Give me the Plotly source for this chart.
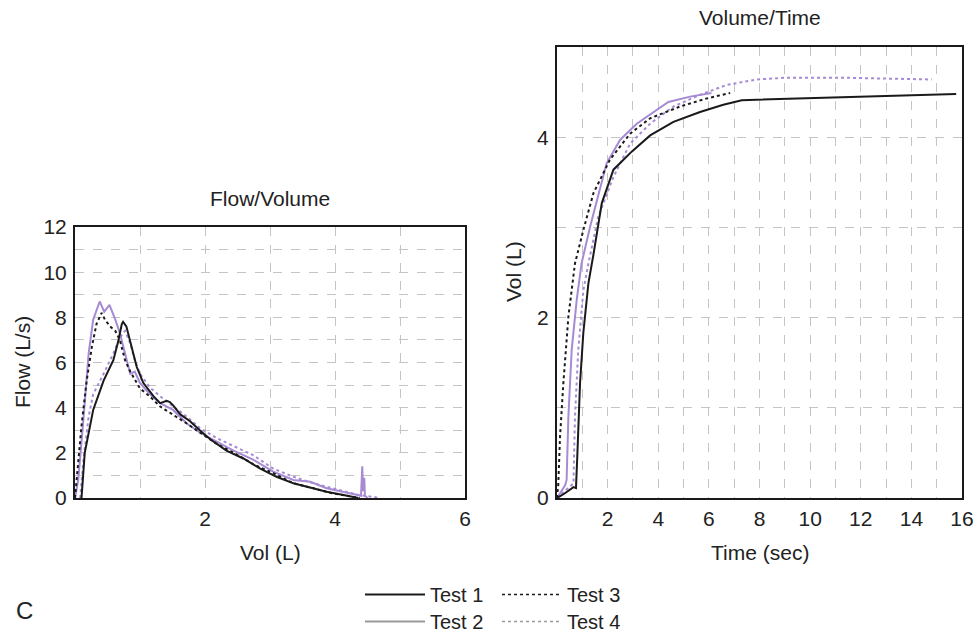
import plotly.graph_objects as go

# ---------------- data ----------------
# Flow/Volume (x: Vol L, y: Flow L/s)
fv1_vol = [0.10, 0.12, 0.15, 0.28, 0.44, 0.59, 0.67, 0.72, 0.74, 0.79, 0.87, 0.95, 1.05, 1.21, 1.31, 1.41, 1.46, 1.51, 1.62, 1.77, 1.92, 2.08, 2.33, 2.59, 2.85, 3.10, 3.36, 3.62, 3.87, 4.13, 4.36]
fv1_flow = [0.0, 1.0, 2.0, 3.9, 5.2, 6.1, 7.0, 7.7, 7.8, 7.6, 6.7, 5.8, 5.1, 4.5, 4.2, 4.3, 4.25, 4.1, 3.7, 3.4, 3.0, 2.6, 2.1, 1.75, 1.3, 0.94, 0.65, 0.46, 0.28, 0.13, 0.0]

fv2_vol = [0.0, 0.05, 0.13, 0.21, 0.28, 0.38, 0.45, 0.53, 0.62, 0.69, 0.77, 0.85, 0.92, 1.0, 1.15, 1.31, 1.51, 1.72, 1.92, 2.18, 2.44, 2.74, 3.05, 3.36, 3.62, 3.87, 4.13, 4.28, 4.40, 4.42, 4.43, 4.45, 4.46, 4.48, 4.50]
fv2_flow = [0.0, 0.8, 3.5, 6.4, 7.9, 8.7, 8.25, 8.55, 7.9, 7.3, 6.4, 5.5, 5.6, 5.1, 4.6, 4.2, 3.9, 3.3, 2.9, 2.5, 2.1, 1.7, 1.17, 0.8, 0.72, 0.43, 0.28, 0.2, 0.1, 1.4, 0.3, 0.9, 0.1, 0.05, 0.0]

fv3_vol = [0.0, 0.05, 0.10, 0.18, 0.26, 0.33, 0.41, 0.46, 0.54, 0.62, 0.69, 0.77, 0.85, 1.0, 1.15, 1.31, 1.51, 1.72, 1.92, 2.18, 2.44, 2.74, 3.05, 3.36, 3.67, 3.97, 4.28, 4.38]
fv3_flow = [0.0, 1.7, 3.2, 5.2, 6.7, 7.7, 8.2, 7.9, 7.6, 7.4, 7.0, 6.1, 5.6, 4.85, 4.5, 4.05, 3.7, 3.3, 2.9, 2.4, 2.0, 1.5, 1.1, 0.65, 0.43, 0.2, 0.05, 0.0]

fv4_vol = [0.08, 0.13, 0.21, 0.28, 0.44, 0.59, 0.69, 0.77, 0.85, 0.92, 1.0, 1.15, 1.31, 1.51, 1.72, 1.92, 2.18, 2.44, 2.74, 3.05, 3.36, 3.67, 3.97, 4.18, 4.38, 4.59, 4.67]
fv4_flow = [0.0, 1.7, 3.6, 4.6, 5.5, 6.4, 7.1, 7.4, 6.85, 6.1, 5.5, 4.9, 4.5, 4.05, 3.6, 3.1, 2.65, 2.3, 1.9, 1.3, 0.94, 0.65, 0.43, 0.28, 0.12, 0.05, 0.0]

# Volume/Time (x: Time sec, y: Vol L)
vt1_time = [0.0, 0.3, 0.65, 0.75, 0.8, 0.91, 1.04, 1.11, 1.24, 1.44, 1.77, 2.23, 2.95, 3.68, 4.6, 5.65, 6.57, 7.3, 14.2, 15.77]
vt1_vol = [0.0, 0.05, 0.12, 0.11, 0.45, 1.27, 1.83, 2.0, 2.38, 2.7, 3.27, 3.64, 3.84, 4.02, 4.17, 4.28, 4.36, 4.41, 4.47, 4.48]

vt2_time = [0.0, 0.32, 0.38, 0.45, 0.58, 0.78, 0.97, 1.3, 1.96, 2.49, 3.15, 4.4, 5.26, 6.1]
vt2_vol = [0.0, 0.14, 0.2, 0.9, 1.64, 2.2, 2.6, 3.0, 3.71, 3.97, 4.15, 4.39, 4.45, 4.49]

vt3_time = [0.0, 0.05, 0.12, 0.25, 0.45, 0.65, 0.71, 1.04, 1.44, 2.09, 2.89, 3.68, 4.86, 5.92, 6.84]
vt3_vol = [0.0, 0.15, 0.68, 1.27, 2.01, 2.5, 2.6, 2.97, 3.38, 3.75, 4.04, 4.21, 4.34, 4.43, 4.49]

vt4_time = [0.0, 0.3, 0.51, 0.65, 0.71, 0.84, 1.04, 1.24, 1.63, 2.23, 2.89, 3.68, 4.6, 5.65, 6.71, 7.89, 9.08, 11.2, 14.2, 14.8]
vt4_vol = [0.0, 0.08, 0.13, 0.16, 0.9, 1.64, 2.3, 2.6, 3.12, 3.56, 3.93, 4.15, 4.34, 4.47, 4.58, 4.64, 4.66, 4.66, 4.64, 4.64]

test_names = ["Test 1", "Test 2", "Test 3", "Test 4"]
fv_left_ticks = [0, 2, 4, 6, 8, 10, 12]
fv_bottom_ticks = [2, 4, 6]
vt_left_ticks = [0, 2, 4]
vt_bottom_ticks = [2, 4, 6, 8, 10, 12, 14, 16]

# ---------------- styles ----------------
BLACK = "#1a1a1a"
PURPLE = "#a68bd4"
LEGEND_GRAY = "#9a9a9a"
GRID = "#c4c4c4"
TXT = "#222"
FONT = "Liberation Sans, Arial, sans-serif"
FS = 21

W, H = 980, 633

fig = go.Figure()

styles = [
    dict(color=BLACK, width=2, dash="solid"),
    dict(color=PURPLE, width=2, dash="solid"),
    dict(color=BLACK, width=2, dash="dot"),
    dict(color=PURPLE, width=2, dash="dot"),
]

fv = [(fv1_vol, fv1_flow), (fv2_vol, fv2_flow), (fv3_vol, fv3_flow), (fv4_vol, fv4_flow)]
vt = [(vt1_time, vt1_vol), (vt2_time, vt2_vol), (vt3_time, vt3_vol), (vt4_time, vt4_vol)]

order = [3, 1, 2, 0]
for i in order:
    x, y = fv[i]
    fig.add_trace(go.Scatter(x=x, y=y, mode="lines", line=styles[i], showlegend=False,
                             name=test_names[i], xaxis="x", yaxis="y"))
for i in order:
    x, y = vt[i]
    fig.add_trace(go.Scatter(x=x, y=y, mode="lines", line=styles[i], showlegend=False,
                             name=test_names[i], xaxis="x2", yaxis="y2"))

# legend entries (the legend shows grey for tests 2 and 4); row 1: Test 1, Test 3; row 2: Test 2, Test 4
leg_styles = [
    dict(color=BLACK, width=2, dash="solid"),
    dict(color=LEGEND_GRAY, width=2, dash="solid"),
    dict(color=BLACK, width=1.5, dash="dot"),
    dict(color=LEGEND_GRAY, width=1.5, dash="dot"),
]
leg_row = ["legend", "legend2", "legend", "legend2"]
for i in [0, 2, 1, 3]:
    fig.add_trace(go.Scatter(x=[None], y=[None], mode="lines", line=leg_styles[i],
                             name=test_names[i], showlegend=True, legend=leg_row[i],
                             xaxis="x", yaxis="y"))

def axis(domain, rng, tickvals, anchor, ticklabelstandoff):
    return dict(
        domain=domain, range=rng, tickvals=tickvals, anchor=anchor,
        showgrid=True, gridcolor=GRID, griddash="dash", gridwidth=1,
        minor=dict(dtick=1, tick0=0, showgrid=True, gridcolor=GRID, griddash="dash", gridwidth=1),
        showline=True, linecolor=BLACK, linewidth=2, mirror=True,
        ticks="", zeroline=False, automargin=False,
        tickfont=dict(family=FONT, size=FS, color=TXT),
        ticklabelstandoff=ticklabelstandoff,
    )

xd1 = [75 / W, 465 / W]
xd2 = [557 / W, 962 / W]
yd1 = [1 - 498 / H, 1 - 227 / H]
yd2 = [1 - 498 / H, 1 - 47 / H]

legend_common = dict(orientation="h", xref="container", yref="container", xanchor="left",
                     yanchor="top", x=360 / W, itemwidth=60, entrywidth=62,
                     font=dict(family=FONT, size=20, color=TXT),
                     bgcolor="rgba(0,0,0,0)", tracegroupgap=0)

def label(text, xpx, ypx, angle=0, size=FS):
    return dict(text=text, x=xpx / W, y=1 - ypx / H, xref="paper", yref="paper", showarrow=False,
                textangle=angle, font=dict(family=FONT, size=size, color=TXT),
                xanchor="center", yanchor="middle")

fig.update_layout(
    width=W, height=H, autosize=False,
    margin=dict(l=0, r=0, t=0, b=0, autoexpand=False),
    paper_bgcolor="white", plot_bgcolor="white",
    font=dict(family=FONT, size=FS, color=TXT),
    xaxis=axis(xd1, [0, 6], fv_bottom_ticks, "y", 1),
    yaxis=axis(yd1, [0, 12], fv_left_ticks, "x", 2),
    xaxis2=axis(xd2, [0, 16], vt_bottom_ticks, "y2", 1),
    yaxis2=axis(yd2, [0, 5], vt_left_ticks, "x2", 2),
    legend=dict(legend_common, y=1 - 575 / H),
    legend2=dict(legend_common, y=1 - 602 / H),
    annotations=[
        label("Flow/Volume", 270, 198),
        label("Volume/Time", 759.5, 17),
        label("Vol (L)", 270, 552),
        label("Time (sec)", 759.5, 552),
        label("Flow (L/s)", 22, 362, -90),
        label("Vol (L)", 513, 272, -90),
        dict(text="C", x=14 / W, y=1 - 610 / H, xref="paper", yref="paper", showarrow=False,
             font=dict(family=FONT, size=24, color=TXT), xanchor="left", yanchor="middle"),
    ],
)

fig.write_html("out.html")
